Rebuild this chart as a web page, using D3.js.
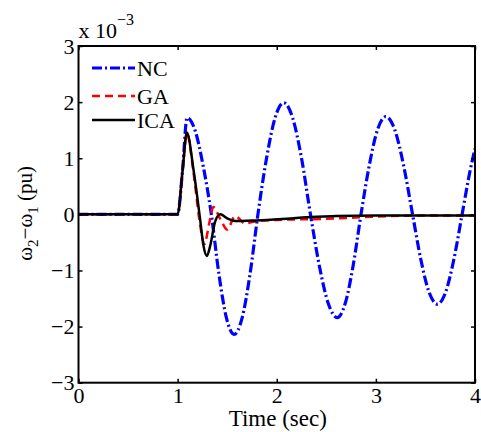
<!DOCTYPE html>
<html><head><meta charset="utf-8">
<script src="https://cdn.jsdelivr.net/npm/d3@7"></script>
<style>
html,body{margin:0;padding:0;background:#fff;}
</style></head>
<body>
<svg id="c" width="481" height="432"></svg>
<script>
// ---- data (values in units of 1e-3 pu) ----
const xTicks = [0, 1, 2, 3, 4];
const yTicks = [-3, -2, -1, 0, 1, 2, 3];
const seriesNames = ["NC", "GA", "ICA"];

const ncTime = [0, 1.0, 1.05, 1.095, 1.177, 1.258, 1.34, 1.417, 1.493, 1.57, 1.65, 1.73, 1.81, 1.897, 1.983, 2.07, 2.16, 2.25, 2.34, 2.43, 2.52, 2.61, 2.69, 2.77, 2.85, 2.933, 3.017, 3.10, 3.19, 3.28, 3.37, 3.453, 3.537, 3.62, 3.703, 3.787, 3.87, 3.953, 4.0];
const ncValues = [0, 0, 0.8, 1.72, 1.49, 0.86, 0, -1.07, -1.85, -2.14, -1.85, -1.07, 0, 1.0, 1.72, 1.99, 1.72, 1.0, 0, -0.92, -1.59, -1.84, -1.59, -0.92, 0, 0.87, 1.51, 1.74, 1.51, 0.87, 0, -0.8, -1.39, -1.60, -1.39, -0.8, 0, 0.8, 1.17];

const gaTime = [0, 1.0, 1.05, 1.093, 1.16, 1.22, 1.27, 1.32, 1.36, 1.43, 1.50, 1.58, 1.68, 1.8, 2.0, 2.5, 3.0, 3.5, 4.0];
const gaValues = [0, 0, 0.78, 1.44, 0.75, -0.1, -0.53, -0.15, 0.13, -0.08, -0.27, -0.03, -0.16, -0.12, -0.1, -0.08, -0.04, -0.02, -0.02];

const icaTime = [0, 1.0, 1.05, 1.093, 1.16, 1.227, 1.26, 1.295, 1.33, 1.38, 1.43, 1.5, 1.6, 1.75, 1.9, 2.1, 2.3, 2.6, 3.0, 3.5, 4.0];
const icaValues = [0, 0, 0.78, 1.46, 0.8, -0.09, -0.55, -0.74, -0.55, -0.12, 0.0, -0.07, -0.12, -0.11, -0.1, -0.08, -0.05, -0.03, -0.02, -0.02, -0.02];

// ---- layout ----
const L = 78.5, R = 475, T = 46, B = 382.7;
const FONT = '"Liberation Serif", "Times New Roman", serif';
const svg = d3.select("#c");
const x = d3.scaleLinear().domain([0, 4]).range([L, R]);
const y = d3.scaleLinear().domain([-3, 3]).range([B, T]);

svg.append("defs").append("clipPath").attr("id", "clip")
  .append("rect").attr("x", L).attr("y", T).attr("width", R - L).attr("height", B - T);

const line = d3.line().x(d => x(d[0])).y(d => y(d[1])).curve(d3.curveMonotoneX);
const zip = (a, b) => a.map((t, i) => [t, b[i]]);

const styles = {
  NC: {color: "#0000ff", width: 3.2, dash: "10,3,2,3"},
  GA: {color: "#ff0000", width: 2.5, dash: "8,5"},
  ICA: {color: "#000000", width: 2.5, dash: null}
};
const dataMap = {NC: zip(ncTime, ncValues), GA: zip(gaTime, gaValues), ICA: zip(icaTime, icaValues)};

const g = svg.append("g").attr("clip-path", "url(#clip)");
seriesNames.forEach(k => {
  const s = styles[k];
  g.append("path").datum(dataMap[k])
    .attr("d", line).attr("fill", "none")
    .attr("stroke", s.color).attr("stroke-width", s.width)
    .attr("stroke-dasharray", s.dash)
    .attr("stroke-linejoin", "round");
});

// ---- axes ----
const fs = 22;
const axB = svg.append("g").attr("transform", `translate(0,${B})`)
  .call(d3.axisBottom(x).tickValues(xTicks).tickSize(-4).tickPadding(5).tickFormat(d3.format("d")));
const axT = svg.append("g").attr("transform", `translate(0,${T})`)
  .call(d3.axisTop(x).tickValues(xTicks).tickSize(-4).tickFormat(""));
const axL = svg.append("g").attr("transform", `translate(${L},0)`)
  .call(d3.axisLeft(y).tickValues(yTicks).tickSize(-4).tickPadding(4).tickFormat(d => d < 0 ? "\u2212" + Math.abs(d) : d));
const axR = svg.append("g").attr("transform", `translate(${R},0)`)
  .call(d3.axisRight(y).tickValues(yTicks).tickSize(-4).tickFormat(""));
[axB, axT, axL, axR].forEach(a => {
  a.select(".domain").remove();
  a.selectAll(".tick line").attr("stroke", "#000").attr("stroke-width", 1.5);
  a.selectAll("text").style("font-family", FONT).style("font-size", fs + "px").attr("fill", "#000");
});
svg.append("rect").attr("x", L).attr("y", T).attr("width", R - L).attr("height", B - T)
  .attr("fill", "none").attr("stroke", "#000").attr("stroke-width", 2);

// exponent label
const ex = svg.append("text").attr("x", L).attr("y", 38)
  .style("font-family", FONT).style("font-size", fs + "px");
ex.append("tspan").text("x 10");
ex.append("tspan").attr("dy", -13).style("font-size", "16px").text("\u22123");

// x label
svg.append("text").attr("x", (L + R) / 2 + 1).attr("y", 426).attr("text-anchor", "middle")
  .style("font-family", FONT).style("font-size", "23px").text("Time (sec)");

// y label
const yl = svg.append("text").attr("transform", `translate(32,${(T + B) / 2 - 1}) rotate(-90)`)
  .attr("text-anchor", "middle").style("font-family", FONT).style("font-size", "21px");
yl.append("tspan").text("\u03c9");
yl.append("tspan").attr("dy", 6).style("font-size", "15px").text("2");
yl.append("tspan").attr("dy", -6).text("\u2212\u03c9");
yl.append("tspan").attr("dy", 6).style("font-size", "15px").text("1");
yl.append("tspan").attr("dy", -6).text(" (pu)");

// legend
const legY = [68, 96, 120];
seriesNames.forEach((k, i) => {
  const s = styles[k];
  svg.append("line").attr("x1", 92).attr("x2", 135).attr("y1", legY[i]).attr("y2", legY[i])
    .attr("stroke", s.color).attr("stroke-width", s.width).attr("stroke-dasharray", s.dash);
  svg.append("text").attr("x", 137).attr("y", legY[i] + 8)
    .style("font-family", FONT).style("font-size", fs + "px").text(k);
});
</script>
</body></html>
